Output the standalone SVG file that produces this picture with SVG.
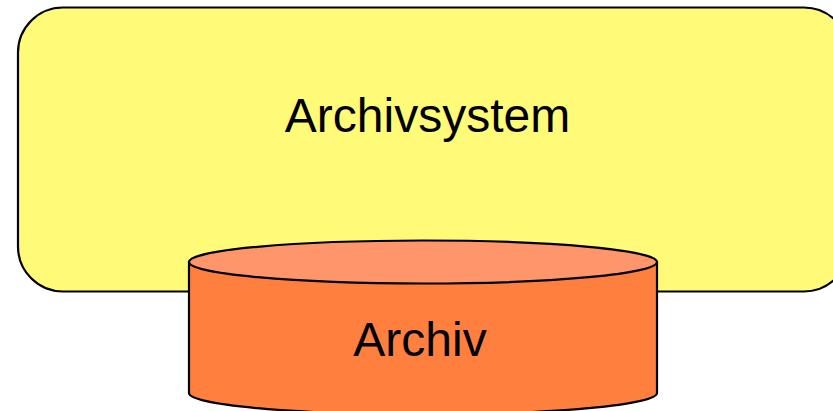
<svg xmlns="http://www.w3.org/2000/svg" width="833" height="411" viewBox="0 0 833 411">
<style>
.lbl{font-family:"Liberation Sans",Arial,sans-serif;font-size:48px;fill:#000;text-anchor:middle}
.ln{stroke:#000;stroke-width:2.2}
</style>
<rect width="833" height="411" fill="#fff"/>
<g id="archivsystem">
<rect class="ln" x="18" y="7.5" width="831" height="284" rx="45" ry="45" fill="#FFFA78"/>
<text class="lbl" x="427.5" y="132">Archivsystem</text>
</g>
<g id="archiv">
<path class="ln" d="M189 262 L189 393 A234 21.5 0 0 0 657 393 L657 262 Z" fill="#FF7F3F"/>
<ellipse class="ln" cx="423" cy="262" rx="234" ry="21.5" fill="#FF956A"/>
<text class="lbl" x="420" y="356">Archiv</text>
</g>
<g id="connectors"/>
</svg>
